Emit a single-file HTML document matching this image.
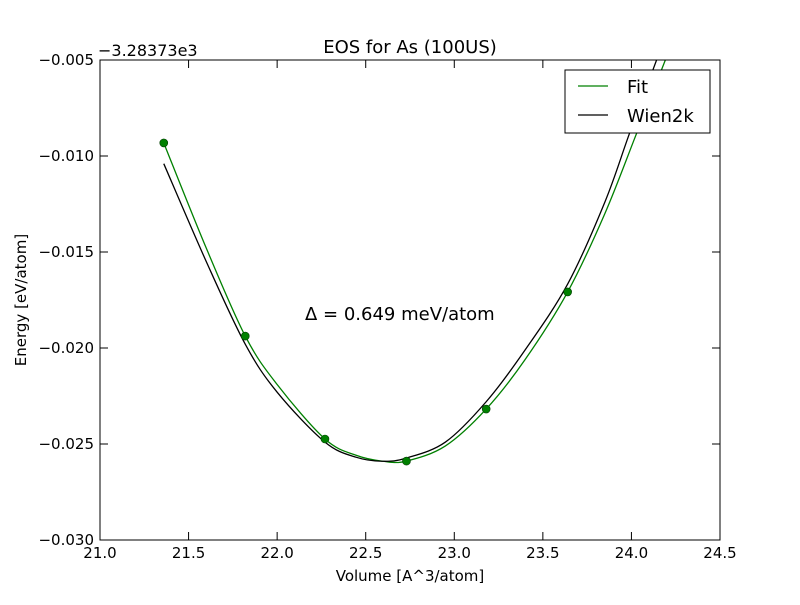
<!DOCTYPE html>
<html><head><meta charset="utf-8"><style>
body{margin:0;background:#fff}
svg text{font-family:"DejaVu Sans","Liberation Sans",sans-serif;fill:#000}
</style></head><body>
<svg id="chart" width="800" height="600" xmlns="http://www.w3.org/2000/svg">
<rect width="800" height="600" fill="#fff"/>
<defs><clipPath id="clip"><rect x="100" y="60" width="620" height="480"/></clipPath></defs>
<g id="curves" clip-path="url(#clip)"></g>
<g id="pts"></g>
<rect x="100" y="60" width="620" height="480" fill="none" stroke="#000" stroke-width="1"/>
<g id="ticks"></g>
<text x="410" y="53" font-size="18" text-anchor="middle">EOS for As (100US)</text>
<text x="98" y="56" font-size="16">−3.28373e3</text>
<text x="410" y="581" font-size="15" text-anchor="middle">Volume [A^3/atom]</text>
<text transform="translate(26,300) rotate(-90)" font-size="15" text-anchor="middle">Energy [eV/atom]</text>
<text x="305" y="320" font-size="18">Δ = 0.649 meV/atom</text>
<g>
<rect x="565" y="70" width="145" height="63" fill="#fff" stroke="#000"/>
<line x1="578" y1="86" x2="608" y2="86" stroke="#008000" stroke-width="1.2"/>
<text x="627" y="93" font-size="18">Fit</text>
<line x1="578" y1="115" x2="608" y2="115" stroke="#000" stroke-width="1.2"/>
<text x="627" y="122" font-size="18">Wien2k</text>
</g>
</svg>
<script>
const pointV=[21.36,21.82,22.27,22.73,23.18,23.64];
const pointE=[-0.00932,-0.01938,-0.02474,-0.02589,-0.02318,-0.01708];
const fitV=[21.36,21.6,21.82,22.0,22.27,22.45,22.6,22.73,22.95,23.18,23.4,23.64,23.85,24.03,24.2];
const fitE=[-0.00932,-0.0148,-0.01938,-0.0219,-0.02474,-0.0256,-0.0259,-0.02589,-0.0251,-0.02318,-0.0206,-0.01708,-0.0130,-0.0088,-0.0048];
const wienV=[21.36,21.6,21.82,22.0,22.27,22.45,22.6,22.73,22.95,23.18,23.4,23.64,23.85,23.99,24.15];
const wienE=[-0.0104,-0.0155,-0.0198,-0.0223,-0.0249,-0.0257,-0.0259,-0.02573,-0.0249,-0.0228,-0.0201,-0.01667,-0.0124,-0.0088,-0.0048];
const xTicks=[21.0,21.5,22.0,22.5,23.0,23.5,24.0,24.5];
const yTicks=[-0.005,-0.010,-0.015,-0.020,-0.025,-0.030];
const NS="http://www.w3.org/2000/svg";
const xs=v=>100+(v-21.0)/3.5*620;
const ys=e=>60+(-0.005-e)/0.025*480;
function mk(t,a,p){const el=document.createElementNS(NS,t);for(const k in a)el.setAttribute(k,a[k]);p.appendChild(el);return el;}
function pathD(V,E){const P=V.map((v,i)=>[xs(v),ys(E[i])]);let d="M"+P[0][0]+","+P[0][1];
for(let i=0;i<P.length-1;i++){const p0=P[Math.max(0,i-1)],p1=P[i],p2=P[i+1],p3=P[Math.min(P.length-1,i+2)];
d+=" C"+(p1[0]+(p2[0]-p0[0])/6)+","+(p1[1]+(p2[1]-p0[1])/6)+" "+(p2[0]-(p3[0]-p1[0])/6)+","+(p2[1]-(p3[1]-p1[1])/6)+" "+p2[0]+","+p2[1];}return d;}
const cg=document.getElementById("curves");
const c1=mk("path",{d:pathD(fitV,fitE),fill:"none",stroke:"#008000","stroke-width":1.3},cg);


const c2=mk("path",{d:pathD(wienV,wienE),fill:"none",stroke:"#000","stroke-width":1.3},cg);


const pg=document.getElementById("pts");
pointV.forEach((v,i)=>{const c=mk("circle",{cx:xs(v),cy:ys(pointE[i]),r:4,fill:"#008000",stroke:"#004000","stroke-width":0.6},pg);

});
const tg=document.getElementById("ticks");
xTicks.forEach(v=>{const x=xs(v);
mk("line",{x1:x,y1:540,x2:x,y2:532,stroke:"#000"},tg);mk("line",{x1:x,y1:60,x2:x,y2:68,stroke:"#000"},tg);
const t=mk("text",{x:x,y:558,"font-size":15,"text-anchor":"middle"},tg);t.textContent=v.toFixed(1);

});
yTicks.forEach(e=>{const y=ys(e);
mk("line",{x1:100,y1:y,x2:108,y2:y,stroke:"#000"},tg);mk("line",{x1:720,y1:y,x2:712,y2:y,stroke:"#000"},tg);
const t=mk("text",{x:94,y:y+5,"font-size":15,"text-anchor":"end"},tg);t.textContent="−"+Math.abs(e).toFixed(3);

});
</script>
</body></html>
